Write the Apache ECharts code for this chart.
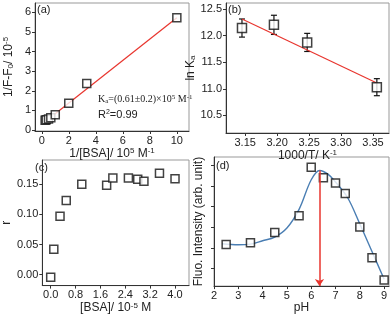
<!DOCTYPE html>
<html><head><meta charset="utf-8">
<script src="https://cdn.jsdelivr.net/npm/echarts@6/dist/echarts.min.js"></script>
<style>html,body{margin:0;padding:0;background:#fff}#c{width:392px;height:315px}</style>
</head><body><div id="c"></div>
<script>
// Panel (a): double reciprocal plot
const aX = [0.25, 0.33, 0.5, 0.67, 1.0, 2.0, 3.33, 10];
const aY = [0.50, 0.52, 0.56, 0.63, 0.78, 1.36, 2.37, 5.72];
const aFitX = [0.25, 10];
const aFitY = [0.42, 5.72];
const aXTicks = [0, 2, 4, 6, 8, 10];
const aYTicks = [0, 1, 2, 3, 4, 5, 6];
// Panel (b): van't Hoff
const bX = [3.145, 3.195, 3.247, 3.356];
const bY = [12.14, 12.20, 11.87, 11.03];
const bErr = [0.17, 0.18, 0.17, 0.16];
const bFitX = [3.145, 3.356];
const bFitY = [12.31, 11.11];
const bXTicks = [3.15, 3.20, 3.25, 3.30, 3.35];
const bYTicks = [10.5, 11.0, 11.5, 12.0, 12.5];
// Panel (c)
const cX = [0, 0.1, 0.3, 0.5, 1.0, 1.8, 2.0, 2.5, 2.8, 3.0, 3.5, 4.0];
const cY = [-0.004, 0.042, 0.097, 0.123, 0.150, 0.148, 0.160, 0.160, 0.158, 0.155, 0.168, 0.159];
const cXTicks = [0, 0.8, 1.6, 2.4, 3.2, 4.0];
const cYTicks = [0, 0.05, 0.10, 0.15];
// Panel (d)
const dX = [2.5, 3.5, 4.5, 5.5, 6.0, 6.5, 7.0, 7.4, 8.0, 8.5, 9.0];
const dY = [2.16, 2.25, 2.74, 3.55, 5.90, 5.39, 5.13, 4.63, 3.01, 1.52, 0.45];
const dFitX = [2.33, 3, 3.5, 4, 4.5, 5, 5.5, 6, 6.35, 6.7, 7, 7.5, 8, 8.5, 9];
const dFitY = [2.2, 2.15, 2.18, 2.34, 2.52, 2.96, 3.86, 5.29, 5.74, 5.55, 5.18, 4.42, 3.15, 1.82, 0.48];
const dXTicks = [2, 3, 4, 5, 6, 7, 8, 9];
const dYTicks = [1, 2, 3, 4, 5, 6];
const dPeakX = 6.34, dPeakY = 5.74;

const zip = (xs, ys) => xs.map((x, i) => [x, ys[i]]);
const FONT = 'Liberation Sans';
const lbl = {fontFamily: FONT, fontSize: 11, color: '#222'};
const rich = {
  n: {fontFamily: FONT, fontSize: 12, color: '#222'},
  sup: {fontFamily: FONT, fontSize: 8, color: '#222', verticalAlign: 'top', padding: [0, 0, 5, 0]},
  sub: {fontFamily: FONT, fontSize: 8, color: '#222', verticalAlign: 'bottom', padding: [5, 0, 0, 0]}
};
function axis(idx, min, max, ticks, fmt, name, gap, extra) {
  return Object.assign({
    type: 'value', gridIndex: idx, min: min, max: max,
    axisLine: {show: true, onZero: false, lineStyle: {color: '#333', width: 1}},
    axisTick: {show: true, length: 3, lineStyle: {color: '#333'}, customValues: ticks},
    axisLabel: Object.assign({customValues: ticks, margin: 4, formatter: fmt}, lbl),
    splitLine: {show: false},
    name: name, nameLocation: 'middle', nameGap: gap,
    nameTextStyle: {fontFamily: FONT, fontSize: 12, color: '#222', rich: rich}
  }, extra || {});
}
const sq = {symbol: 'rect', symbolSize: 8, itemStyle: {color: '#fff', borderColor: '#111', borderWidth: 1.5}};

const option = {
  animation: false,
  grid: [
    {left: 35, top: 3, width: 154, height: 128, show: true, borderColor: '#999', borderWidth: 1},
    {left: 226, top: 3, width: 163, height: 130, show: true, borderColor: '#999', borderWidth: 1},
    {left: 33, top: 160, width: 156, height: 127, show: true, borderColor: '#999', borderWidth: 1},
    {left: 214, top: 157, width: 175, height: 131, show: true, borderColor: '#999', borderWidth: 1}
  ],
  xAxis: [
    axis(0, -0.5, 10.9, aXTicks, v => String(v), '{n|1/[BSA]/ 10}{sup|5}{n| M}{sup|-1}', 9),
    axis(1, 3.12, 3.375, bXTicks, v => v.toFixed(2), '{n|1000/T/ K}{sup|-1}', 9),
    axis(2, -0.27, 4.45, cXTicks, v => v.toFixed(1), '{n|[BSA]/ 10}{sup|-5}{n| M}', 9),
    axis(3, 2, 9.2, dXTicks, v => String(v), 'pH', 9)
  ],
  yAxis: [
    axis(0, -0.05, 6.47, aYTicks, v => String(v), '{n|1/F-F}{sub|0}{n|/ 10}{sup|-5}', 20),
    axis(1, 10.17, 12.61, bYTicks, v => v.toFixed(1), '{n|ln K}{sub|a}', 22),
    axis(2, -0.018, 0.19, cYTicks, v => v.toFixed(2), 'r', 24),
    axis(3, 0.15, 6.39, dYTicks, v => '', 'Fluo. Intensity (arb. unit)', 9,
      {axisLabel: {show: false, customValues: dYTicks}})
  ],
  series: [
    {type: 'line', xAxisIndex: 0, yAxisIndex: 0, data: zip(aFitX, aFitY), showSymbol: false,
      lineStyle: {color: '#e8352e', width: 1.2}, z: 2},
    Object.assign({type: 'scatter', xAxisIndex: 0, yAxisIndex: 0, data: zip(aX, aY), z: 3}, sq),
    {type: 'line', xAxisIndex: 1, yAxisIndex: 1, data: zip(bFitX, bFitY), showSymbol: false,
      lineStyle: {color: '#e8352e', width: 1.2}, z: 2},
    {type: 'custom', xAxisIndex: 1, yAxisIndex: 1, z: 2,
      data: bX.map((x, i) => [x, bY[i] - bErr[i], bY[i] + bErr[i]]),
      renderItem: function (params, api) {
        const lo = api.coord([api.value(0), api.value(1)]);
        const hi = api.coord([api.value(0), api.value(2)]);
        const w = 3;
        const st = {stroke: '#111', lineWidth: 1.2};
        return {type: 'group', children: [
          {type: 'line', shape: {x1: lo[0], y1: lo[1], x2: hi[0], y2: hi[1]}, style: st},
          {type: 'line', shape: {x1: lo[0] - w, y1: lo[1], x2: lo[0] + w, y2: lo[1]}, style: st},
          {type: 'line', shape: {x1: hi[0] - w, y1: hi[1], x2: hi[0] + w, y2: hi[1]}, style: st}
        ]};
      }},
    Object.assign({type: 'scatter', xAxisIndex: 1, yAxisIndex: 1, data: zip(bX, bY), z: 3}, sq, {symbolSize: 9}),
    Object.assign({type: 'scatter', xAxisIndex: 2, yAxisIndex: 2, data: zip(cX, cY), z: 3}, sq),
    {type: 'line', xAxisIndex: 3, yAxisIndex: 3, data: zip(dFitX, dFitY), showSymbol: false, smooth: 0.35,
      lineStyle: {color: '#4a7eb3', width: 1.4}, z: 2,
      markLine: {silent: true, symbol: ['none', 'arrow'], symbolSize: 7, label: {show: false},
        lineStyle: {color: '#e8352e', width: 1.5, type: 'solid'},
        data: [[{coord: [dPeakX, dPeakY]}, {coord: [dPeakX, 0.15]}]]}},
    Object.assign({type: 'scatter', xAxisIndex: 3, yAxisIndex: 3, data: zip(dX, dY), z: 3}, sq)
  ],
  graphic: [
    {type: 'text', left: 37, top: 4, style: {text: '(a)', font: '11px ' + FONT, fill: '#222'}},
    {type: 'text', left: 228, top: 4, style: {text: '(b)', font: '11px ' + FONT, fill: '#222'}},
    {type: 'text', left: 35, top: 162, style: {text: '(c)', font: '11px ' + FONT, fill: '#222'}},
    {type: 'text', left: 216, top: 160, style: {text: '(d)', font: '11px ' + FONT, fill: '#222'}},
    {type: 'text', left: 98, top: 94, style: {
      text: '{k|K}{s|a}{k|=(0.61±0.2)×10}{p|5}{k| M}{p|-1}',
      rich: {
        k: {fontFamily: 'Liberation Serif', fontSize: 10, fill: '#222'},
        s: {fontFamily: 'Liberation Serif', fontSize: 7, fill: '#222', verticalAlign: 'bottom', padding: [4, 0, 0, 0]},
        p: {fontFamily: 'Liberation Serif', fontSize: 7, fill: '#222', verticalAlign: 'top', padding: [0, 0, 4, 0]}
      }}},
    {type: 'text', left: 98, top: 109, style: {
      text: '{k|R}{p|2}{k|=0.99}',
      rich: {
        k: {fontFamily: FONT, fontSize: 11, fill: '#222'},
        p: {fontFamily: FONT, fontSize: 7, fill: '#222', verticalAlign: 'top', padding: [0, 0, 4, 0]}
      }}}
  ]
};
echarts.init(document.getElementById('c'), null, {renderer: 'canvas'}).setOption(option);
</script></body></html>
